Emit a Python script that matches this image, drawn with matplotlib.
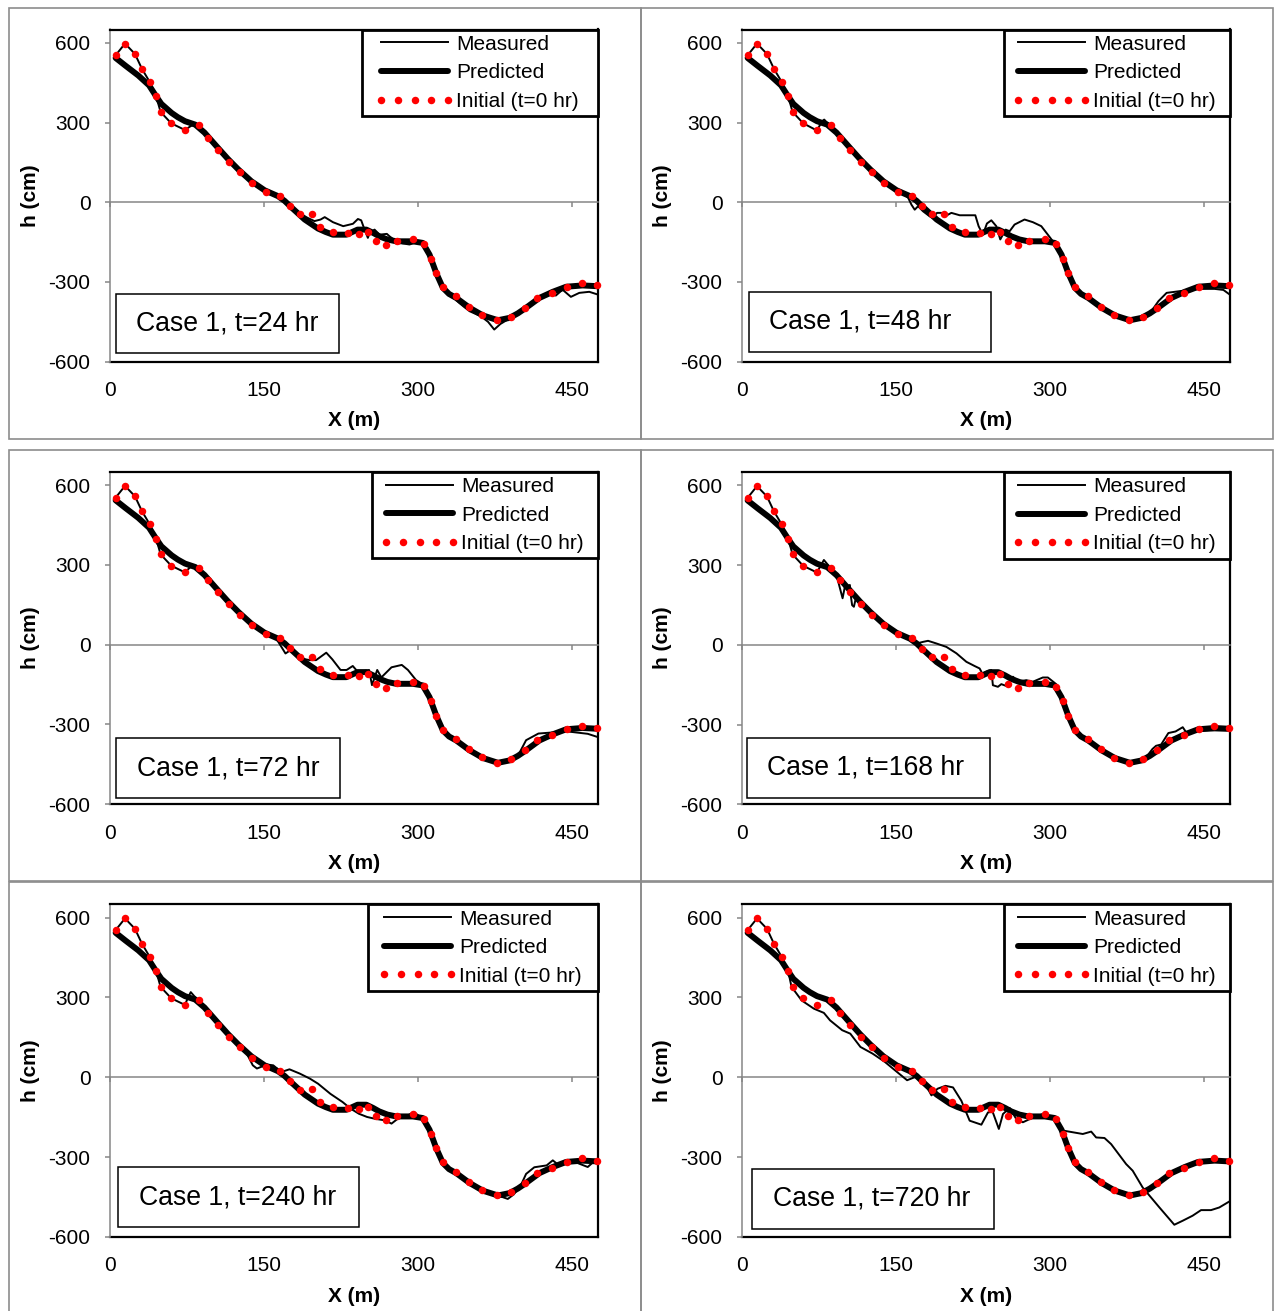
import matplotlib
matplotlib.use("Agg")
import matplotlib.pyplot as plt
from matplotlib.patches import Rectangle
from matplotlib.path import Path
from matplotlib.legend_handler import HandlerLine2D

plt.rcParams['font.family'] = ['Liberation Sans', 'DejaVu Sans']
plt.rcParams['axes.unicode_minus'] = False

# ---------------------------------------------------------------- data
XTICKS = [0, 150, 300, 450]
YTICKS = [-600, -300, 0, 300, 600]
XLIM = (0, 475)
YLIM = (-600, 650)

SERIES_NAMES = ["Measured", "Predicted", "Initial (t=0 hr)"]
CASE_LABELS = ["Case 1, t=24 hr", "Case 1, t=48 hr", "Case 1, t=72 hr",
               "Case 1, t=168 hr", "Case 1, t=240 hr", "Case 1, t=720 hr"]

# initial bed profile (t = 0)
X_INIT = [5.5, 14.6, 24.3, 31.1, 38.6, 45.0, 49.2, 59.6, 72.9, 86.2,
          95.2, 105.6, 115.6, 127.0, 138.7, 152.0, 165.2, 175.3, 185.0, 196.5,
          204.1, 217.4, 232.0, 242.3, 251.0, 258.5, 268.5, 279.5, 294.7, 305.4,
          312.0, 317.8, 324.6, 336.6, 349.3, 361.9, 376.5, 390.4, 403.7, 416.0,
          430.6, 444.8, 459.7, 474.0]
H_INIT = [553, 597, 558, 502, 453, 398, 340, 297, 272, 289,
          242, 198, 153, 113, 74, 40, 25, -14, -46, -45,
          -92, -113, -115, -119, -111, -147, -162, -144, -139, -157,
          -212, -267, -320, -354, -393, -424, -443, -430, -397, -360,
          -341, -318, -305, -313]

# model prediction
X_PRED = [5.5, 15, 27.5, 38, 45, 50, 60, 66, 73, 83, 92, 105, 115, 125,
          137.6, 150.5, 163.5, 170, 176.5, 189.5, 202.5, 210, 217, 230, 241,
          249.5, 256, 262, 270, 278.5, 294.7, 304.4, 311, 317.5, 324, 330,
          337, 350, 363, 377.6, 389, 397, 405, 418, 431, 444, 460, 474.6]
H_PRED = [543, 514, 477, 440, 398, 370, 336, 320, 305, 292, 262, 205, 162, 123,
          79, 45, 23, 5, -19, -65, -99, -112, -122, -122, -103,
          -103, -115, -128, -140, -147, -147, -153, -197, -266, -322, -345,
          -360, -397, -426, -444, -435, -418, -397, -360, -337, -318, -313, -316]

# measured profiles
X_M24 = [5.5, 14.6, 24.3, 31.1, 38.6, 45.0, 49.2, 59.6, 72.9, 80, 86.2, 95, 105,
         115, 125, 137, 150, 157, 165, 172, 177, 185, 192, 199, 205, 209, 217,
         227, 236.5, 241.3, 244.5, 247.8, 251, 252.7, 257.5, 262.4, 269.5, 272,
         278.5, 285, 291.5, 296.4, 302.9, 306, 311, 317.5, 324, 330, 336, 340,
         345, 350, 361, 368, 374, 380, 389, 397, 405, 418, 428, 434, 440.5,
         448.6, 456.8, 466.5, 474.6]
H_M24 = [553, 597, 558, 502, 453, 398, 340, 297, 272, 290, 289, 250, 205,
         162, 124, 82, 45, 35, 25, -2, -19, -42, -58, -71, -65, -56, -75,
         -90, -81, -63, -68, -103, -134, -115, -103, -122, -119, -128,
         -147, -155, -159, -153, -147, -160, -197, -266, -322, -350, -365, -379,
         -395, -410, -429, -450, -479, -458, -437, -418, -397, -362, -345, -351, -329,
         -356, -341, -337, -347]

X_M48 = [5.5, 14.6, 24.3, 31.1, 38.6, 45.0, 49.2, 59.6, 72.9, 78, 80, 83.7, 90,
         95, 105, 115, 125, 137, 150, 157, 161.7, 164.9, 168.1, 171.4, 176.2,
         182.7, 185.9, 189.8, 194.1, 199, 203.8, 211.9, 221.6, 227.1, 230.3,
         234.5, 238.4, 242.7, 247.5, 251.4, 256.6, 260.5, 265.3, 275, 283.1,
         291.3, 297.7, 302.6, 306, 311, 317.5, 324, 330, 337, 350, 363, 377.6,
         389, 397, 405.4, 413.3, 425.2, 445, 460, 468.6, 474.6]
H_M48 = [553, 597, 558, 502, 453, 398, 340, 297, 270, 305, 311, 296, 272,
         250, 205, 162, 124, 82, 45, 35, 17, -9, -28, -15, -34,
         -53, -59, -40, -40, -50, -40, -49, -49, -49, -90,
         -122, -80, -68, -90, -140, -103, -109, -84, -65, -75,
         -90, -122, -147, -155, -197, -266, -322, -345, -360, -397, -426, -444,
         -435, -418, -372, -341, -335, -326, -326, -330, -347]

X_M72 = [5.5, 14.6, 24.3, 31.1, 38.6, 45.0, 49.2, 59.6, 72.9, 79.4, 86.2, 95,
         105, 115, 125, 137, 150, 157, 162, 166.8, 170.8, 176.7, 184.7, 194.6,
         200.6, 210.5, 216.4, 224.4, 230.3, 236.3, 240.3, 246, 252.2, 255,
         260.1, 264.1, 274, 284, 290, 297.9, 305.8, 311, 317.5, 324, 330, 337,
         350, 363, 377.6, 389, 397, 405, 417, 427, 445, 465, 474.6]
H_M72 = [553, 597, 558, 502, 453, 398, 340, 297, 272, 296, 289, 250,
         205, 162, 124, 82, 45, 35, 22, -8, -33, -18, -51, -58,
         -58, -30, -55, -95, -95, -80, -98, -100, -95, -152,
         -95, -123, -85, -76, -95, -133, -152, -197, -266, -322, -345, -360,
         -397, -426, -444, -435, -418, -359, -334, -331, -326, -335, -347]

X_M168 = [5.5, 14.6, 24.3, 31.1, 38.6, 45.0, 49.2, 59.6, 72.9, 79.7, 86.2, 92,
          97.9, 100.1, 105, 105.6, 107.2, 108.9, 110.8, 115, 125, 137, 150, 160,
          170, 176.2, 181.1, 189.2, 199, 208.7, 218.4, 226.5, 231.3, 233.9,
          237.8, 242.7, 244.2, 249.1, 252.4, 257.3, 263.7, 268.6, 276.7, 283.1,
          292.8, 297.7, 304.2, 311, 317.5, 324, 330, 337, 350, 363, 377.6, 389,
          395, 399.5, 403, 408, 415, 422, 429, 433, 440, 455, 474.6]
H_M168 = [553, 597, 558, 502, 453, 398, 340, 297, 272, 319, 289, 262,
          175, 218, 225, 193, 149, 143, 175, 162, 124, 82, 45, 25,
          5, 11, 15, 5, -8, -32, -64, -80, -89, -108,
          -101, -95, -152, -158, -148, -155, -120, -139, -133, -139,
          -123, -123, -143, -197, -266, -322, -345, -360, -397, -426, -444, -435,
          -415, -392, -380, -375, -332, -326, -310, -333, -325, -322, -322]

X_M240 = [5.5, 14.6, 24.3, 31.1, 38.6, 45.0, 49.2, 59.6, 72.9, 76, 78.6, 82,
          86.2, 95, 105, 115, 125, 133, 139, 143, 152.9, 158.9, 166.8, 174.7,
          184.7, 194.6, 202.5, 214.5, 226.4, 234.3, 242.3, 250.2, 258.1, 268,
          274, 280, 290, 295.9, 305.8, 311, 317.5, 324, 330, 337, 350, 363,
          377.6, 387.2, 393, 400, 405, 413, 425, 431, 437, 449, 457, 465, 470.6,
          474.6]
H_M240 = [553, 597, 558, 502, 453, 398, 340, 297, 272, 300, 320, 305,
          289, 250, 205, 162, 124, 90, 45, 33, 48, 45, 20, 30,
          14, -5, -24, -62, -93, -118, -137, -149, -156, -162,
          -174, -156, -143, -130, -162, -197, -266, -322, -345, -360, -397, -426,
          -444, -457, -440, -405, -363, -338, -331, -312, -331, -312, -325, -337, -318,
          -325]

X_M720 = [5.5, 14.6, 24.3, 31.1, 38.6, 45.0, 48.2, 58, 69.9, 79.7, 85.7, 97.5,
          105.4, 115.3, 127.1, 139, 152.8, 160.7, 168.6, 176.5, 184.4, 190.3,
          198, 205.4, 213.5, 221.6, 233, 239.4, 244, 250, 254, 260.5, 267,
          273.4, 280, 292.8, 302.6, 312.3, 331.7, 339.9, 344.7, 352.8, 359.3,
          373.9, 380.3, 390, 406.3, 420.8, 428.9, 438.6, 446.8, 456.5, 464.6,
          474.6]
H_M720 = [553, 597, 558, 502, 453, 398, 340, 289, 258, 242, 214, 177,
          164, 114, 89, 58, 14, -11, 1, -11, -68, -43,
          -32, -38, -88, -163, -178, -132, -130, -194, -138, -115, -157,
          -169, -157, -138, -150, -200, -213, -204, -226, -228, -251,
          -326, -351, -414, -489, -554, -539, -520, -499, -499, -489,
          -466]

MEASURED = [(X_M24, H_M24), (X_M48, H_M48), (X_M72, H_M72),
            (X_M168, H_M168), (X_M240, H_M240), (X_M720, H_M720)]

# ---------------------------------------------------------------- layout
W, H = 1276, 1311
DPI = 100
GRAY = '#868686'
FRAME_GRAY = '#8c8c8c'

# plot areas in pixels: left, top, right, bottom
AX_PX = [(110, 29.5, 598, 361.7), (742, 29.5, 1230, 361.7),
         (110, 471.8, 598, 804.3), (742, 472.0, 1230, 804.3),
         (110, 904.3, 598, 1237.0), (742, 904.3, 1230, 1237.0)]
# chart-area frames in pixels
FRAME_PX = [(9, 8, 641, 439), (641, 8, 1273, 439),
            (9, 450, 641, 881), (641, 450, 1273, 881),
            (9, 882, 641, 1320), (641, 882, 1273, 1320)]
# caption boxes in axes fractions: x0, y0, x1, y1
CAPTION_BOX = [(0.0113, 0.0253, 0.469, 0.2038), (0.0143, 0.030, 0.511, 0.2107),
               (0.0129, 0.018, 0.471, 0.1985), (0.0102, 0.0199, 0.5078, 0.2003),
               (0.0164, 0.029, 0.510, 0.2095), (0.0209, 0.024, 0.517, 0.2044)]
# extra horizontal room inside each legend frame, px
LEG_PADX = [14, 9, 9, 9, 11, 9]


def make_wide_box(padx):
    def wide_box(x0, y0, width, height, mutation_size):
        x0 = x0 - padx
        width = width + 2 * padx
        return Path([(x0, y0), (x0 + width, y0), (x0 + width, y0 + height),
                     (x0, y0 + height), (x0, y0)], closed=True)
    return wide_box


fig = plt.figure(figsize=(W / DPI, H / DPI), dpi=DPI, facecolor='white')

for (l, t, r, b) in FRAME_PX:
    fig.add_artist(Rectangle((l / W, 1 - b / H), (r - l) / W, (b - t) / H,
                             transform=fig.transFigure, fill=False,
                             edgecolor=FRAME_GRAY, linewidth=1.2))

for i, (l, t, r, b) in enumerate(AX_PX):
    ax = fig.add_axes([l / W, 1 - b / H, (r - l) / W, (b - t) / H])
    xm, hm = MEASURED[i]

    ln_m, = ax.plot(xm, hm, color='black', lw=1.4, zorder=3,
                    solid_joinstyle='round')
    ln_p, = ax.plot(X_PRED, H_PRED, color='black', lw=4.3, zorder=4,
                    solid_capstyle='round', solid_joinstyle='round')
    ln_i, = ax.plot(X_INIT, H_INIT, linestyle='none', marker='o', ms=5.4,
                    markerfacecolor='#ff0000', markeredgecolor='none',
                    color='#ff0000', zorder=5, clip_on=False)

    ax.set_xlim(*XLIM)
    ax.set_ylim(*YLIM)

    # axis crossing at h = 0 with tick marks below it
    ax.spines['bottom'].set_position(('data', 0))
    ax.spines['bottom'].set_color(GRAY)
    ax.spines['bottom'].set_linewidth(1.1)
    ax.spines['left'].set_color(GRAY)
    ax.spines['left'].set_linewidth(1.1)
    for s in ('top', 'right'):
        ax.spines[s].set_color('black')
        ax.spines[s].set_linewidth(1.6)
    ax.set_xticks(XTICKS)
    ax.tick_params(axis='x', direction='out', length=3.6, width=1.1,
                   color=GRAY, labelbottom=False)
    ax.set_yticks(YTICKS)
    ax.tick_params(axis='y', direction='out', length=3.6, width=1.1,
                   color=GRAY, pad=10.4, labelsize=15)
    ax.set_ylabel('h (cm)', fontsize=15, fontweight='bold', labelpad=6.5)

    # labels along the lower edge of the plot area
    sec = ax.secondary_xaxis('bottom')
    sec.set_xticks(XTICKS)
    sec.tick_params(axis='x', length=0, pad=14, labelsize=15)
    sec.spines['bottom'].set_color('black')
    sec.spines['bottom'].set_linewidth(1.6)
    sec.set_xlabel('X (m)', fontsize=15, fontweight='bold', labelpad=8)

    # legend
    ax_w = r - l
    padx = LEG_PADX[i]
    leg = ax.legend([ln_m, ln_p, ln_i], SERIES_NAMES, loc='upper right',
                    bbox_to_anchor=(1 - padx / ax_w, 1.0),
                    borderaxespad=0, fontsize=15, handlelength=3.22,
                    handletextpad=0.38, labelspacing=0.46, borderpad=0.25,
                    fancybox=False, framealpha=1, edgecolor='black',
                    handler_map={ln_i: HandlerLine2D(marker_pad=0, numpoints=5)})
    leg.get_frame().set_linewidth(2.0)
    leg.get_frame().set_boxstyle(make_wide_box(padx))
    leg.set_zorder(10)

    # caption box
    x0, y0, x1, y1 = CAPTION_BOX[i]
    ax.add_patch(Rectangle((x0, y0), x1 - x0, y1 - y0, transform=ax.transAxes,
                           facecolor='white', edgecolor='black', lw=1.1,
                           zorder=6))
    ax.text(x0 + 20.5 / ax_w, y0 + 0.070, CASE_LABELS[i], fontsize=19.2,
            ha='left', va='baseline', transform=ax.transAxes, zorder=7)

fig.savefig('out.png', dpi=DPI, facecolor='white')
